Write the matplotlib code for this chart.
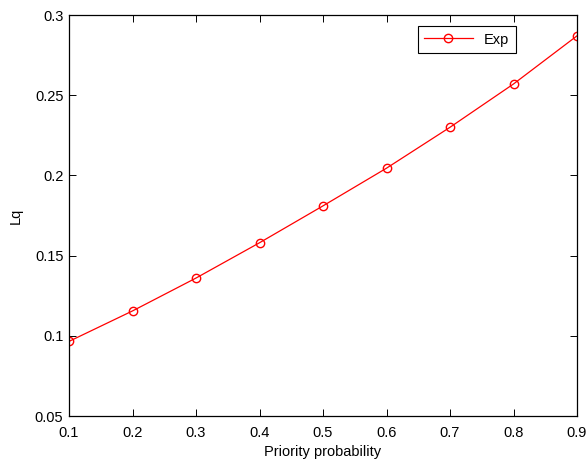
import matplotlib
matplotlib.use("Agg")
import matplotlib.pyplot as plt

# data
prob = [0.1, 0.2, 0.3, 0.4, 0.5, 0.6, 0.7, 0.8, 0.9]
lq = [0.0965, 0.1155, 0.136, 0.158, 0.181, 0.2045, 0.230, 0.257, 0.287]

plt.rcParams['font.family'] = ['Liberation Sans', 'DejaVu Sans']
plt.rcParams['font.size'] = 10.5

fig = plt.figure(figsize=(5.87, 4.61), dpi=100)
ax = fig.add_axes([69/587, 1-416/461, 508/587, 401/461])

ax.plot(prob, lq, color='r', marker='o', markerfacecolor='none',
        markeredgecolor='r', markersize=6, linewidth=0.9, label='Exp')

ax.set_xlim(0.1, 0.9)
ax.set_ylim(0.05, 0.3)
ax.set_xticks(prob)
ax.set_xticklabels(['0.1', '0.2', '0.3', '0.4', '0.5', '0.6', '0.7', '0.8', '0.9'])
ax.set_yticks([0.05, 0.1, 0.15, 0.2, 0.25, 0.3])
ax.set_yticklabels(['0.05', '0.1', '0.15', '0.2', '0.25', '0.3'])
ax.tick_params(direction='in', top=True, right=True, length=5, width=0.7)
ax.tick_params(axis='x', pad=7)
ax.tick_params(axis='y', pad=4)
for s in ax.spines.values():
    s.set_linewidth(0.9)

ax.set_xlabel('Priority probability', labelpad=4)
ax.set_ylabel('Lq', labelpad=9)

leg = ax.legend(loc='upper right', bbox_to_anchor=(447/508, 1-11/401),
                borderaxespad=0, fancybox=False, framealpha=1,
                edgecolor='black', borderpad=0.45, handlelength=3.3,
                fontsize=10.5)
leg.get_frame().set_linewidth(0.8)

fig.savefig('out.png', dpi=100)
